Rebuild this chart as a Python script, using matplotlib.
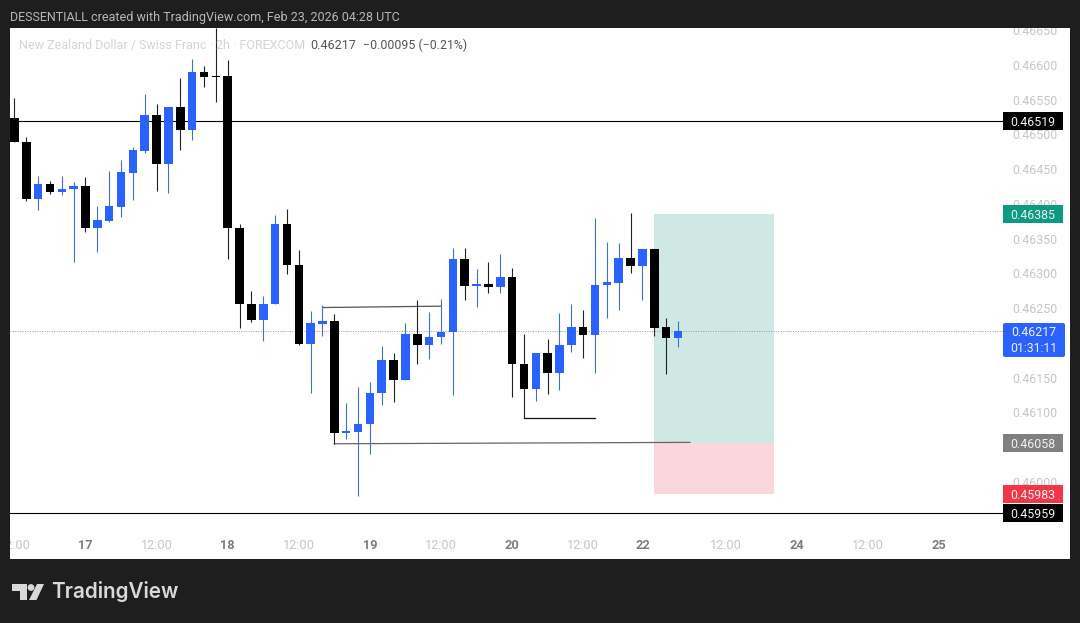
import matplotlib
matplotlib.use("Agg")
import matplotlib.pyplot as plt
from matplotlib.patches import Polygon, Circle, Rectangle, FancyBboxPatch
from matplotlib.transforms import blended_transform_factory, IdentityTransform
import numpy as np

plt.rcParams['font.family'] = ['Roboto', 'DejaVu Sans']

# NZDCHF 2h candles, index 0 is the "17" day tick
bar_index = np.arange(-6, 51)
opens = [46524, 46489, 46407, 46429, 46417, 46421, 46426, 46365, 46376, 46396, 46445, 46476,
         46528, 46458, 46540, 46506, 46590, 46584, 46584, 46365, 46256, 46233, 46256, 46371,
         46312, 46199, 46227, 46232, 46071, 46072, 46083, 46128, 46176, 46147, 46213, 46197,
         46209, 46216, 46321, 46282, 46285, 46281, 46295, 46170, 46134, 46186, 46157, 46197,
         46223, 46212, 46283, 46286, 46322, 46311, 46335, 46223, 46207]
highs = [46553, 46496, 46440, 46433, 46440, 46432, 46439, 46397, 46447, 46463, 46482, 46558,
         46544, 46540, 46581, 46609, 46599, 46653, 46607, 46371, 46275, 46268, 46384, 46393,
         46334, 46246, 46255, 46242, 46114, 46137, 46144, 46196, 46186, 46229, 46262, 46245,
         46263, 46337, 46337, 46306, 46317, 46328, 46308, 46213, 46186, 46206, 46243, 46256,
         46247, 46380, 46345, 46344, 46387, 46335, 46335, 46236, 46232]
lows = [46489, 46404, 46391, 46414, 46413, 46317, 46360, 46331, 46374, 46381, 46406, 46473,
        46419, 46416, 46478, 46492, 46568, 46547, 46321, 46222, 46230, 46203, 46256, 46299,
        46197, 46128, 46210, 46055, 46062, 45980, 46040, 46111, 46115, 46147, 46170, 46177,
        46199, 46125, 46262, 46252, 46272, 46272, 46122, 46092, 46117, 46127, 46132, 46187,
        46178, 46157, 46236, 46247, 46301, 46262, 46210, 46155, 46194]
closes = [46489, 46407, 46429, 46417, 46422, 46426, 46365, 46377, 46397, 46446, 46478, 46528,
          46458, 46540, 46506, 46590, 46583, 46583, 46365, 46256, 46233, 46256, 46371, 46312,
          46199, 46229, 46232, 46071, 46073, 46083, 46128, 46176, 46147, 46213, 46197, 46209,
          46216, 46321, 46282, 46285, 46281, 46295, 46170, 46134, 46186, 46157, 46197, 46223,
          46212, 46283, 46288, 46322, 46311, 46335, 46222, 46207, 46217]

# 0.46050 and 0.46200 sit fully behind the price tags in the reference
price_ticks = [0.46000, 0.46100, 0.46150, 0.46250, 0.46300, 0.46350,
               0.46400, 0.46450, 0.46500, 0.46550, 0.46600, 0.46650]
time_ticks = [-6, 0, 6, 12, 18, 24, 30, 36, 42, 47, 54, 60, 66, 72]
time_labels = ['12:00', '17', '12:00', '18', '12:00', '19', '12:00', '20', '12:00', '22',
               '12:00', '24', '12:00', '25']

resistance = 0.46519
support = 0.45956
last_price = 0.46217
target = 0.46385
entry = 0.46056
stop = 0.45983

# (price, text, colour)
tags = [(0.46519, '0.46519', '#000000'),
        (0.46385, '0.46385', '#0c9a82'),
        (0.46056, '0.46058', '#808080'),
        (0.45983, '0.45983', '#f23645'),
        (0.45956, '0.45959', '#000000')]

BLUE = '#2962ff'
BLACK = '#000000'
W, H = 1080, 623

def px(x, y):
    return x / W, 1 - y / H

fig = plt.figure(figsize=(W / 100, H / 100), dpi=100, facecolor='#1e1e1e')
ax = fig.add_axes([10 / W, 1 - 559 / H, 1060 / W, 531 / H], facecolor='white')
ax.set_xlim(-6.37, 83.08)
ax.set_ylim(0.458892, 0.466532)
for s in ax.spines.values():
    s.set_visible(False)

o = np.array(opens) / 1e5
h = np.array(highs) / 1e5
l = np.array(lows) / 1e5
c = np.array(closes) / 1e5
up = c >= o

# position tool
ax.fill_between([48, 58.1], entry, target, color='#cfe8e3', lw=0, zorder=1)
ax.fill_between([48, 58.1], stop, entry, color='#fbd6da', lw=0, zorder=1)

# levels
line_tr = blended_transform_factory(ax.transAxes, ax.transData)
ax.plot([0, 0.937], [resistance, resistance], color='black', lw=0.8, transform=line_tr, zorder=2)
ax.plot([0, 0.937], [support, support], color='black', lw=0.8, transform=line_tr, zorder=2)
ax.plot([0, 0.937], [last_price, last_price], color='#8a98b0', lw=0.7, ls=(0, (1, 1.5)),
        transform=line_tr, zorder=2)

# drawn trend lines
ax.plot([20, 30], [0.46251, 0.46253], color='#555555', lw=0.9, zorder=2)
ax.plot([21, 51], [0.46055, 0.46057], color='#666666', lw=0.9, zorder=2)
ax.plot([37, 43], [0.46092, 0.46092], color='#111111', lw=0.9, zorder=2)

# candles
ax.vlines(bar_index[up], l[up], h[up], color='#3f6fd0', lw=0.8, zorder=3)
ax.vlines(bar_index[~up], l[~up], h[~up], color='#222222', lw=0.8, zorder=3)
ax.bar(bar_index[up], (c - o)[up], bottom=o[up], width=0.72, color=BLUE, lw=0, zorder=4)
ax.bar(bar_index[~up], (c - o)[~up], bottom=o[~up], width=0.72, color=BLACK, lw=0, zorder=4)

# axes labels sit inside the white panel
ax.yaxis.tick_right()
ax.set_yticks(price_ticks)
ax.set_yticklabels([f'{p:.5f}' for p in price_ticks])
ax.tick_params(axis='y', length=0, pad=-41.5, labelsize=8.9, labelcolor='#c6c6c6')
ax.set_xticks(time_ticks)
ax.set_xticklabels(time_labels)
ax.tick_params(axis='x', length=0, pad=-14.5, labelsize=9.2, labelcolor='#c6c6c6')
for lbl in ax.get_xticklabels():
    if ':' not in lbl.get_text():
        lbl.set_fontweight('bold')
        lbl.set_color('#7d7d7d')
    lbl.set_clip_on(True)
    lbl.set_clip_box(ax.bbox)
for lbl in ax.get_yticklabels():
    lbl.set_clip_on(True)
    lbl.set_clip_box(ax.bbox)

# price tags on the scale
tag_x0 = 993 / 1060
tag_w = 60 / 1060
tag_h = 18 / 69500
for price, text, colour in tags:
    ax.add_patch(Rectangle((tag_x0, price - tag_h / 2), tag_w, tag_h, facecolor=colour, lw=0,
                           transform=line_tr, zorder=5, clip_on=False))
    ax.text(tag_x0 + tag_w / 2, price, text, color='#f0f0f0', fontsize=8.9, ha='center',
            va='center_baseline', transform=line_tr, zorder=6)
ax.add_artist(FancyBboxPatch((1005, H - 355), 58, 30, boxstyle='round,pad=2,rounding_size=2',
                             facecolor=BLUE, lw=0, transform=IdentityTransform(), zorder=5))
ax.text(tag_x0 + 31 / 1060, last_price, '0.46217', color='#f0f0f0', fontsize=8.9, ha='center',
        va='center_baseline', transform=line_tr, zorder=6)
ax.text(tag_x0 + 31 / 1060, last_price - 16 / 69500, '01:31:11', color='#f0f0f0', fontsize=8.9,
        ha='center', va='center_baseline', transform=line_tr, zorder=6)

# header, legend row and footer
fig.text(*px(10, 17), 'DESSENTIALL created with TradingView.com, Feb 23, 2026 04:28 UTC',
         color='#b8b8b8', fontsize=8.97, va='center')
fig.text(*px(19, 45.5), 'New Zealand Dollar / Swiss Franc · 2h · FOREXCOM', color='#d4d4d4',
         fontsize=8.97, va='center')
fig.text(*px(310, 45.5), '0.46217', color='#555555', fontsize=9.1, va='center')
fig.text(*px(363, 45.5), '−0.00095 (−0.21%)', color='#555555', fontsize=8.9, va='center')

fig.text(*px(51, 592), 'TradingView', color='#d9d9d9', fontsize=14.9, fontweight='semibold',
         family=['Inter', 'DejaVu Sans'], va='center')
logo_tr = IdentityTransform()
def logo_pts(pts):
    return [(x, H - y) for x, y in pts]
fig.add_artist(Polygon(logo_pts([(12, 584), (27, 584), (27, 600), (20, 600), (20, 590.5), (12, 590.5)]),
                       closed=True, facecolor='#d9d9d9', lw=0, transform=logo_tr))
fig.add_artist(Circle((31, H - 587.5), 3.4, facecolor='#d9d9d9', lw=0, transform=logo_tr))
fig.add_artist(Polygon(logo_pts([(37, 584), (44, 584), (36.5, 600), (29, 600)]),
                       closed=True, facecolor='#d9d9d9', lw=0, transform=logo_tr))

fig.savefig('out.png', dpi=100, facecolor=fig.get_facecolor())
